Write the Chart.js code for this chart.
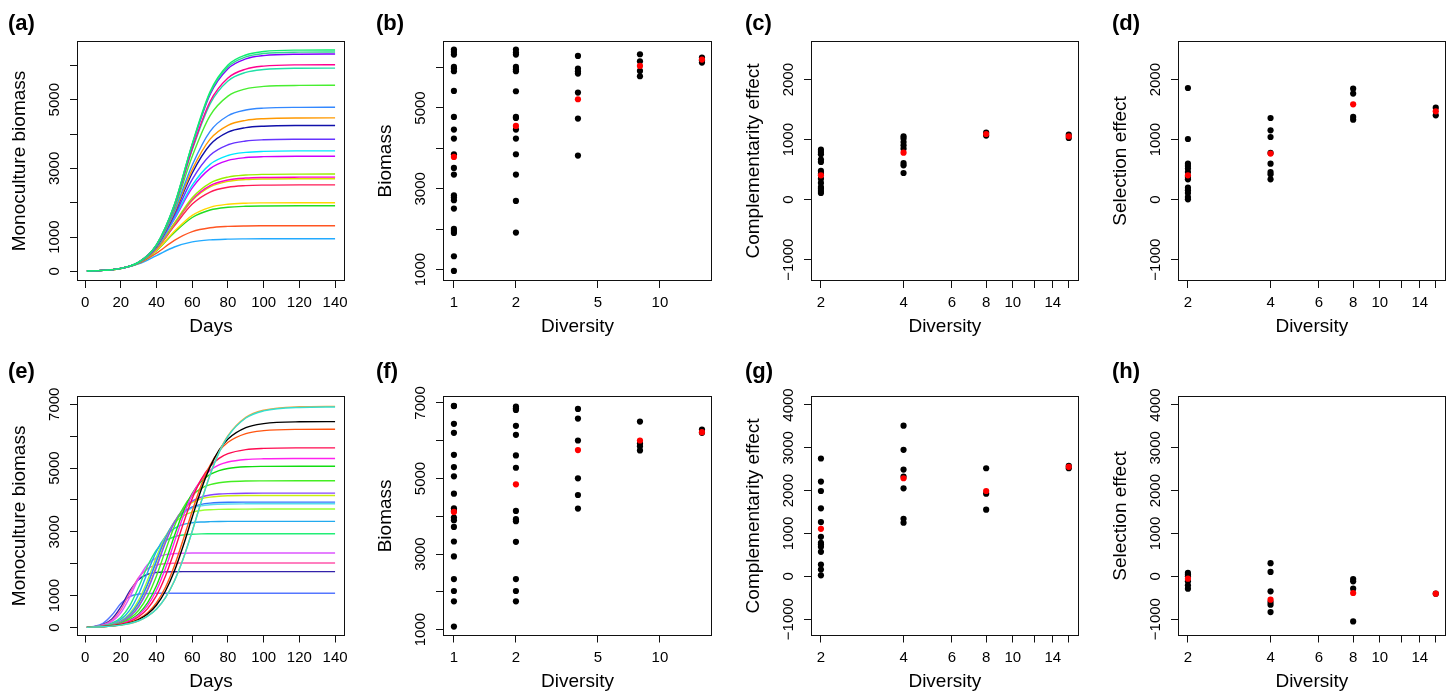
<!DOCTYPE html>
<html>
<head>
<meta charset="utf-8">
<script src="https://cdn.jsdelivr.net/npm/chart.js@4.4.1/dist/chart.umd.min.js"></script>
<style>
html,body{margin:0;padding:0;background:#fff;}
body{width:1454px;height:693px;position:relative;overflow:hidden;}
canvas{position:absolute;display:block;}
</style>
</head>
<body>
<script>
// ================= DATA =================
// Panel (a): monoculture growth curves, sampled days
const daysA = [1, 10, 20, 30, 40, 50, 60, 70, 80, 90, 100, 120, 140];
const a6450 = [10, 28, 87, 268, 776, 1946, 3722, 5235, 6009, 6303, 6403, 6445, 6450];
const a6390 = [10, 28, 87, 268, 776, 1941, 3702, 5196, 5957, 6246, 6344, 6385, 6390];
const a6330 = [10, 28, 87, 268, 775, 1935, 3682, 5156, 5904, 6189, 6285, 6325, 6330];
const a6020 = [10, 28, 87, 267, 770, 1905, 3575, 4948, 5634, 5892, 5979, 6016, 6020];
const a5920 = [10, 28, 87, 267, 768, 1895, 3540, 4880, 5546, 5796, 5880, 5916, 5920];
const a5420 = [10, 28, 87, 266, 759, 1841, 3355, 4536, 5105, 5316, 5387, 5417, 5420];
const a4780 = [10, 28, 87, 264, 745, 1761, 3098, 4079, 4533, 4699, 4754, 4777, 4780];
const a4470 = [10, 28, 87, 263, 738, 1717, 2965, 3851, 4254, 4399, 4447, 4468, 4470];
const a4250 = [10, 28, 87, 262, 731, 1684, 2867, 3687, 4054, 4186, 4229, 4248, 4250];
const a3850 = [10, 28, 87, 261, 719, 1618, 2679, 3382, 3688, 3797, 3833, 3848, 3850];
const a3510 = [10, 28, 86, 259, 706, 1554, 2510, 3117, 3375, 3466, 3496, 3509, 3510];
const a3355 = [10, 28, 86, 258, 700, 1524, 2430, 2994, 3232, 3315, 3342, 3354, 3355];
const a2835 = [10, 28, 86, 255, 674, 1407, 2145, 2573, 2747, 2806, 2826, 2834, 2835];
const a2745 = [10, 28, 86, 254, 669, 1384, 2093, 2499, 2662, 2718, 2736, 2744, 2745];
const a2700 = [10, 28, 86, 254, 666, 1373, 2067, 2461, 2620, 2674, 2692, 2699, 2700];
const a2520 = [10, 28, 86, 252, 655, 1325, 1960, 2311, 2450, 2497, 2513, 2520, 2520];
const a2000 = [10, 28, 85, 246, 614, 1166, 1631, 1866, 1956, 1986, 1995, 2000, 2000];
const a1910 = [10, 28, 85, 244, 605, 1135, 1570, 1788, 1869, 1897, 1906, 1910, 1910];
const a1330 = [10, 28, 83, 232, 532, 902, 1156, 1270, 1310, 1324, 1328, 1330, 1330];
const a950  = [10, 28, 82, 217, 460, 710, 858, 919, 940, 947, 950, 950, 950];

// Panel (e): monoculture growth curves, sampled days
const daysE = [1, 5, 10, 15, 20, 25, 30, 35, 40, 45, 50, 55, 60, 65, 70, 75, 80, 90, 100, 120, 140];
const e6916 = [10, 15, 26, 44, 75, 127, 212, 355, 582, 937, 1458, 2162, 3018, 3934, 4786, 5483, 5996, 6568, 6792, 6901, 6914];
const e6937 = [10, 15, 26, 44, 75, 127, 213, 356, 584, 940, 1462, 2169, 3027, 3946, 4800, 5500, 6014, 6588, 6813, 6922, 6935];
const e6457 = [10, 16, 28, 48, 84, 145, 249, 425, 708, 1145, 1769, 2570, 3464, 4323, 5036, 5561, 5913, 6269, 6394, 6450, 6456];
const e6217 = [10, 16, 28, 50, 88, 155, 270, 465, 780, 1263, 1937, 2771, 3656, 4459, 5087, 5527, 5809, 6081, 6173, 6213, 6217];
const e5633 = [10, 17, 31, 56, 103, 188, 338, 594, 1008, 1618, 2404, 3263, 4044, 4646, 5052, 5303, 5450, 5578, 5617, 5632, 5633];
const e5299 = [10, 17, 32, 61, 114, 213, 390, 693, 1176, 1860, 2683, 3500, 4169, 4637, 4928, 5097, 5190, 5268, 5290, 5298, 5299];
const e5059 = [10, 18, 34, 65, 124, 234, 435, 779, 1318, 2051, 2878, 3636, 4208, 4580, 4800, 4922, 4987, 5040, 5054, 5059, 5059];
const e4600 = [10, 18, 36, 73, 146, 285, 543, 978, 1625, 2413, 3176, 3764, 4145, 4363, 4480, 4540, 4570, 4593, 4598, 4600, 4600];
const e4214 = [10, 19, 40, 82, 169, 339, 655, 1175, 1889, 2658, 3295, 3721, 3964, 4091, 4155, 4186, 4200, 4211, 4213, 4214, 4214];
const e4141 = [10, 19, 40, 84, 174, 353, 683, 1222, 1946, 2703, 3310, 3702, 3922, 4035, 4090, 4117, 4130, 4139, 4141, 4141, 4141];
const e3933 = [11, 20, 42, 90, 191, 392, 762, 1348, 2088, 2795, 3312, 3620, 3782, 3862, 3900, 3918, 3926, 3932, 3933, 3933, 3933];
const e3880 = [11, 20, 43, 92, 195, 402, 783, 1380, 2122, 2813, 3306, 3594, 3744, 3816, 3851, 3866, 3874, 3879, 3880, 3880, 3880];
const e3714 = [11, 20, 44, 98, 211, 440, 857, 1490, 2224, 2857, 3274, 3503, 3616, 3670, 3694, 3705, 3710, 3713, 3714, 3714, 3714];
const e3328 = [11, 21, 49, 114, 256, 547, 1053, 1735, 2394, 2855, 3109, 3232, 3286, 3310, 3320, 3325, 3327, 3328, 3328, 3328, 3328];
const e2942 = [11, 22, 56, 136, 317, 684, 1269, 1928, 2432, 2715, 2847, 2903, 2926, 2936, 2939, 2941, 2942, 2942, 2942, 2942, 2942];
const e2337 = [11, 25, 70, 186, 459, 953, 1543, 1976, 2195, 2284, 2318, 2330, 2335, 2336, 2337, 2337, 2337, 2337, 2337, 2337, 2337];
const e2024 = [11, 27, 80, 224, 554, 1079, 1571, 1848, 1962, 2003, 2017, 2022, 2024, 2024, 2024, 2024, 2024, 2024, 2024, 2024, 2024];
const e1753 = [11, 29, 91, 265, 644, 1147, 1508, 1670, 1727, 1745, 1750, 1752, 1753, 1753, 1753, 1753, 1753, 1753, 1753, 1753, 1753];
const e1075 = [12, 36, 132, 390, 751, 972, 1048, 1068, 1073, 1075, 1075, 1075, 1075, 1075, 1075, 1075, 1075, 1075, 1075, 1075, 1075];

// Diversity levels
const divB = [1, 2, 4, 8, 16];
const divC = [2, 4, 8, 16];

// Panel (b): biomass
const bDiv1 = [6446, 6388, 6322, 6017, 5975, 5909, 5422, 4779, 4465, 4243, 3855, 3516, 3351, 2840, 2782, 2716, 2510, 2007, 1957, 1908, 1330, 967];
const bDiv2 = [6446, 6371, 6322, 6017, 5959, 5909, 5414, 4779, 4754, 4465, 4243, 3855, 3351, 2700, 1916];
const bDiv4 = [6289, 5975, 5909, 5851, 5381, 4738, 3822];
const bDiv8 = [6330, 6157, 5917, 5785];
const bDiv16 = [6248, 6182, 6124];
const bMean = [3789, 4556, 5216, 6041, 6198];

// Panel (c): complementarity effect
const cDiv2 = [833, 794, 756, 667, 628, 478, 433, 350, 278, 211, 183, 144, 111];
const cDiv4 = [1056, 1017, 961, 906, 850, 611, 572, 444];
const cDiv8 = [1117, 1067];
const cDiv16 = [1083, 1028];
const cMean = [406, 783, 1094, 1056];

// Panel (d): selection effect
const dDiv2 = [1861, 1011, 600, 561, 517, 461, 378, 339, 200, 156, 111, 44, 6];
const dDiv4 = [1361, 1156, 1044, 778, 600, 461, 422, 339];
const dDiv8 = [1850, 1767, 1378, 1333];
const dDiv16 = [1533, 1406];
const dMean = [406, 767, 1589, 1472];

// Panel (f): biomass
const fDiv1 = [6921, 6916, 6446, 6208, 5627, 5302, 5056, 4598, 4211, 4141, 3965, 3894, 3718, 3331, 2935, 2337, 2020, 1748, 1079];
const fDiv2 = [6903, 6859, 6815, 6393, 6155, 5610, 5284, 4141, 3921, 3868, 3323, 2337, 2020, 1748];
const fDiv4 = [6841, 6586, 6006, 5003, 4563, 4202];
const fDiv8 = [6507, 5927, 5856, 5742];
const fDiv16 = [6296, 6208];
const fMean = [4114, 4844, 5751, 6006, 6226];

// Panel (g): complementarity effect
const gDiv2 = [2750, 2211, 1992, 1586, 1266, 922, 781, 742, 688, 570, 273, 156, 23];
const gDiv4 = [3516, 2953, 2492, 2328, 2055, 1344, 1250];
const gDiv8 = [2523, 1930, 1555];
const gDiv16 = [2578, 2523];
const gMean = [1109, 2289, 1992, 2555];

// Panel (h): selection effect
const hDiv2 = [78, 39, 0, -117, -211, -289];
const hDiv4 = [305, 102, -352, -602, -664, -836];
const hDiv8 = [-63, -117, -289, -1055];
const hDiv16 = [-406];
const hMean = [-55, -547, -391, -406];

// Tick values
const ticksDays = [0, 20, 40, 60, 80, 100, 120, 140];
const ticksDivB = [1, 2, 5, 10];
const ticksDivC = [2, 4, 6, 8, 10, 12, 14, 16];
const labelsDivC = [2, 4, 6, 8, 10, 14];
const ticksBioA = [0, 1000, 2000, 3000, 4000, 5000, 6000];
const labelsBioA = [0, 1000, 3000, 5000];
const ticksBioB = [1000, 2000, 3000, 4000, 5000, 6000];
const labelsBioB = [1000, 3000, 5000];
const ticksEffTop = [-1000, 0, 1000, 2000];
const ticksBioE = [0, 1000, 2000, 3000, 4000, 5000, 6000, 7000];
const labelsBioE = [0, 1000, 3000, 5000, 7000];
const ticksBioF = [1000, 2000, 3000, 4000, 5000, 6000, 7000];
const labelsBioF = [1000, 3000, 5000, 7000];
const ticksEffBot = [-1000, 0, 1000, 2000, 3000, 4000];

// ================= STYLES =================
const curvesA = [a6450, a6390, a6330, a6020, a5920, a5420, a4780, a4470, a4250, a3850, a3510, a3355, a2835, a2745, a2700, a2520, a2000, a1910, a1330, a950];
const colorsA = ['#10EE70', '#30D890', '#8000FF', '#FF0090', '#20E0A8', '#48EE30', '#3388FF', '#FF9900', '#1010AA', '#6633FF', '#00E8FF', '#CC00FF', '#99EE00', '#FF00CC', '#DDDD00', '#FF1A55', '#FFD700', '#22DD22', '#FF5522', '#22AAFF'];
const curvesE = [e6916, e6937, e6457, e6217, e5633, e5299, e5059, e4600, e4214, e4141, e3933, e3880, e3714, e3328, e2942, e2337, e2024, e1753, e1075];
const colorsE = ['#33E0D0', '#FFA033', '#000000', '#FF5511', '#FF0A50', '#FF22EE', '#11DD11', '#44EE22', '#8844FF', '#CCEE11', '#3377FF', '#55DDEE', '#99FF33', '#22AAEE', '#22EE77', '#DD55FF', '#FF55AA', '#3322AA', '#5577FF'];

const FONT = "'Liberation Sans', Arial, Helvetica, sans-serif";
Chart.defaults.font.family = FONT;
Chart.defaults.color = '#000';

const WY = 68.5, HX = 57.5;
const ROWS = [
  {y0: 0, h: 346, top: 41, bottom: 281, ly: 29.5},
  {y0: 347, h: 346, top: 49.3, bottom: 288.5, ly: 30.5}
];
const COLS = [
  {x0: 0, w: 360, left: 77, right: 345, lx: 8},
  {x0: 360, w: 360, left: 83, right: 352, lx: 16},
  {x0: 720, w: 367, left: 91, right: 358.7, lx: 25},
  {x0: 1087, w: 367, left: 91, right: 358.7, lx: 25}
];

const boxPlugin = {
  id: 'rbox',
  afterDraw(chart, args, o) {
    const {ctx, chartArea: a} = chart;
    ctx.save();
    ctx.strokeStyle = '#111';
    ctx.lineWidth = 1;
    const l = Math.round(a.left) + 0.5, t = Math.round(a.top) + 0.5;
    const r = Math.round(a.right) - 0.5, b = Math.round(a.bottom) - 0.5;
    ctx.strokeRect(l, t, r - l, b - t);
    ctx.fillStyle = '#000';
    ctx.font = 'bold 22px ' + FONT;
    ctx.textAlign = 'left';
    ctx.textBaseline = 'alphabetic';
    ctx.fillText(o.letter, o.lx, o.ly);
    ctx.restore();
  }
};

const mctx = document.createElement('canvas').getContext('2d');
function fmt(v) { return v < 0 ? '\u2212' + Math.abs(v) : String(v); }

function lineSets(days, curves, colors) {
  return curves.map((arr, i) => ({
    data: days.map((d, j) => ({x: d, y: arr[j]})),
    borderColor: colors[i], borderWidth: 1.4, pointRadius: 0, fill: false,
    cubicInterpolationMode: 'monotone'
  }));
}
function pointSets(levels, groups, means) {
  const black = [];
  groups.forEach((g, i) => g.forEach(v => black.push({x: levels[i], y: v})));
  const red = means.map((v, i) => ({x: levels[i], y: v}));
  return [
    {data: red, backgroundColor: '#FF0000', borderWidth: 0, pointRadius: 3.1},
    {data: black, backgroundColor: '#000000', borderWidth: 0, pointRadius: 3.1}
  ];
}

function panel(row, col, spec) {
  const R = ROWS[row], C = COLS[col];
  const cv = document.createElement('canvas');
  cv.width = C.w; cv.height = R.h;
  cv.style.left = C.x0 + 'px'; cv.style.top = R.y0 + 'px';
  cv.style.width = C.w + 'px'; cv.style.height = R.h + 'px';
  document.body.appendChild(cv);
  const xLabs = spec.xTicks.map(v => spec.xShown.includes(v) ? fmt(v) : '');
  const yLabs = spec.yTicks.map(v => spec.yShown.includes(v) ? fmt(v) : '');
  mctx.font = '15px ' + FONT;
  let widest = 0;
  yLabs.forEach(l => { widest = Math.max(widest, mctx.measureText(l).width); });
  const yPad = 14.7 - widest / 2;
  const tickFont = {size: 15, family: FONT};
  const titleFont = {size: 19, family: FONT};
  const grid = {drawOnChartArea: false, drawTicks: true, tickLength: 7, tickColor: '#111', tickWidth: 1, color: '#111', lineWidth: 1};
  new Chart(cv, {
    type: spec.type,
    data: {datasets: spec.datasets},
    options: {
      responsive: false, animation: false, events: [],
      layout: {autoPadding: false, padding: {left: C.left - WY, right: C.w - C.right, top: R.top, bottom: R.h - R.bottom - HX}},
      plugins: {legend: {display: false}, tooltip: {enabled: false}, rbox: {letter: spec.letter, lx: C.lx, ly: R.ly}},
      scales: {
        x: {
          type: spec.xType, position: 'bottom', min: spec.xMin, max: spec.xMax, bounds: 'data',
          afterBuildTicks: s => { s.ticks = spec.xTicks.map(v => ({value: v})); },
          afterFit: s => { s.height = HX; },
          ticks: {autoSkip: false, minRotation: 0, maxRotation: 0, padding: 6, font: tickFont, color: '#000',
            callback: (v, i) => xLabs[i]},
          grid: grid, border: {display: false},
          title: {display: true, text: spec.xTitle, font: titleFont, color: '#000', padding: 0}
        },
        y: {
          type: 'linear', position: 'left', min: spec.yMin, max: spec.yMax, bounds: 'data',
          afterBuildTicks: s => { s.ticks = spec.yTicks.map(v => ({value: v})); },
          afterFit: s => { s.width = WY; },
          ticks: {autoSkip: false, minRotation: 90, maxRotation: 90, crossAlign: 'center', padding: yPad,
            font: tickFont, color: '#000', callback: (v, i) => yLabs[i]},
          grid: grid, border: {display: false},
          title: {display: true, text: spec.yTitle, font: titleFont, color: '#000', padding: 0}
        }
      }
    },
    plugins: [boxPlugin]
  });
}

// ---- top row ----
panel(0, 0, {letter: '(a)', type: 'line', datasets: lineSets(daysA, curvesA, colorsA),
  xType: 'linear', xMin: -4.56, xMax: 145.56, xTicks: ticksDays, xShown: ticksDays, xTitle: 'Days',
  yMin: -280, yMax: 6710, yTicks: ticksBioA, yShown: labelsBioA, yTitle: 'Monoculture biomass'});
panel(0, 1, {letter: '(b)', type: 'scatter', datasets: pointSets(divB, [bDiv1, bDiv2, bDiv4, bDiv8, bDiv16], bMean),
  xType: 'logarithmic', xMin: 0.885, xMax: 17.9, xTicks: ticksDivB, xShown: ticksDivB, xTitle: 'Diversity',
  yMin: 718, yMax: 6658, yTicks: ticksBioB, yShown: labelsBioB, yTitle: 'Biomass'});
panel(0, 2, {letter: '(c)', type: 'scatter', datasets: pointSets(divC, [cDiv2, cDiv4, cDiv8, cDiv16], cMean),
  xType: 'logarithmic', xMin: 1.84, xMax: 17.39, xTicks: ticksDivC, xShown: labelsDivC, xTitle: 'Diversity',
  yMin: -1356, yMax: 2644, yTicks: ticksEffTop, yShown: ticksEffTop, yTitle: 'Complementarity effect'});
panel(0, 3, {letter: '(d)', type: 'scatter', datasets: pointSets(divC, [dDiv2, dDiv4, dDiv8, dDiv16], dMean),
  xType: 'logarithmic', xMin: 1.84, xMax: 17.39, xTicks: ticksDivC, xShown: labelsDivC, xTitle: 'Diversity',
  yMin: -1356, yMax: 2644, yTicks: ticksEffTop, yShown: ticksEffTop, yTitle: 'Selection effect'});
// ---- bottom row ----
panel(1, 0, {letter: '(e)', type: 'line', datasets: lineSets(daysE, curvesE, colorsE),
  xType: 'linear', xMin: -4.56, xMax: 145.56, xTicks: ticksDays, xShown: ticksDays, xTitle: 'Days',
  yMin: -250, yMax: 7250, yTicks: ticksBioE, yShown: labelsBioE, yTitle: 'Monoculture biomass'});
panel(1, 1, {letter: '(f)', type: 'scatter', datasets: pointSets(divB, [fDiv1, fDiv2, fDiv4, fDiv8, fDiv16], fMean),
  xType: 'logarithmic', xMin: 0.885, xMax: 17.9, xTicks: ticksDivB, xShown: ticksDivB, xTitle: 'Diversity',
  yMin: 842, yMax: 7176, yTicks: ticksBioF, yShown: labelsBioF, yTitle: 'Biomass'});
panel(1, 2, {letter: '(g)', type: 'scatter', datasets: pointSets(divC, [gDiv2, gDiv4, gDiv8, gDiv16], gMean),
  xType: 'logarithmic', xMin: 1.84, xMax: 17.39, xTicks: ticksDivC, xShown: labelsDivC, xTitle: 'Diversity',
  yMin: -1383, yMax: 4203, yTicks: ticksEffBot, yShown: ticksEffBot, yTitle: 'Complementarity effect'});
panel(1, 3, {letter: '(h)', type: 'scatter', datasets: pointSets(divC, [hDiv2, hDiv4, hDiv8, hDiv16], hMean),
  xType: 'logarithmic', xMin: 1.84, xMax: 17.39, xTicks: ticksDivC, xShown: labelsDivC, xTitle: 'Diversity',
  yMin: -1383, yMax: 4203, yTicks: ticksEffBot, yShown: ticksEffBot, yTitle: 'Selection effect'});
</script>
</body>
</html>
